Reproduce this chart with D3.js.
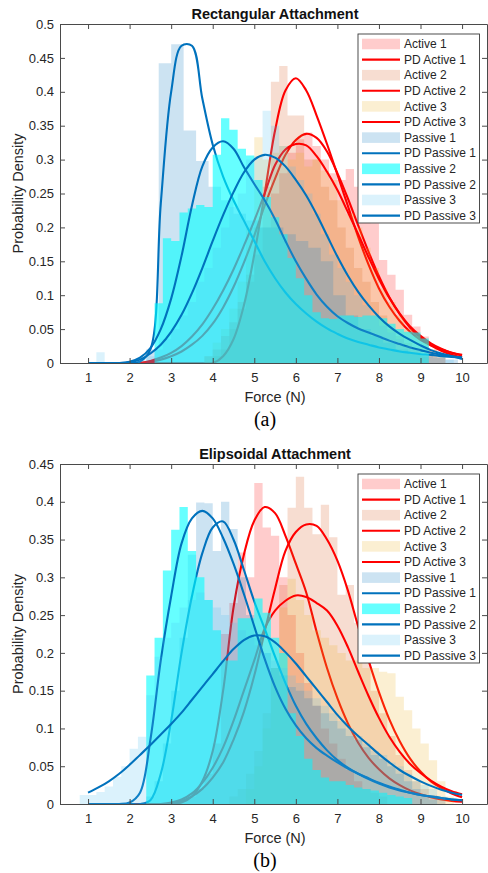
<!DOCTYPE html>
<html>
<head>
<meta charset="utf-8">
<script src="https://cdn.jsdelivr.net/npm/d3@7/dist/d3.min.js"></script>
<style>
  html, body { margin: 0; padding: 0; background: #fff; }
  svg { display: block; font-family: "Liberation Sans", Arial, Helvetica, sans-serif; }
</style>
</head>
<body>
<svg id="fig" width="488" height="873"></svg>
<script>
// ---------------- data ----------------
const forceGrid = [1, 1.25, 1.5, 1.75, 2, 2.25, 2.5, 2.75, 3, 3.25, 3.5, 3.75, 4, 4.25, 4.5, 4.75,
  5, 5.25, 5.5, 5.75, 6, 6.25, 6.5, 6.75, 7, 7.25, 7.5, 7.75, 8, 8.25, 8.5, 8.75, 9, 9.25, 9.5, 9.75, 10];
const forceTicks = [1, 2, 3, 4, 5, 6, 7, 8, 9, 10];
const rectDensityTicks = [0, 0.05, 0.1, 0.15, 0.2, 0.25, 0.3, 0.35, 0.4, 0.45, 0.5];
const rectDensityLabels = ["0", "0.05", "0.1", "0.15", "0.2", "0.25", "0.3", "0.35", "0.4", "0.45", "0.5"];
const ellDensityTicks = [0, 0.05, 0.1, 0.15, 0.2, 0.25, 0.3, 0.35, 0.4, 0.45];
const ellDensityLabels = ["0", "0.05", "0.1", "0.15", "0.2", "0.25", "0.3", "0.35", "0.4", "0.45"];
const seriesNames = ["Active 1", "Active 2", "Active 3", "Passive 1", "Passive 2", "Passive 3"];

// Rectangular attachment: histogram first bin edge and bin width (series order as above)
const rectBinStart = [3.8, 4.0, 3.8, 2.4, 2.6, 1.2];
const rectBinWidth = [0.2, 0.2, 0.2, 0.3, 0.2, 0.2];
const rectHistActive1 = [0.01, 0.02, 0.04, 0.06, 0.09, 0.12, 0.16, 0.2, 0.25, 0.28, 0.31, 0.33, 0.34, 0.32, 0.3,
  0.28, 0.27, 0.286, 0.26, 0.255, 0.206, 0.152, 0.13, 0.108, 0.071, 0.054, 0.039, 0.02, 0.008];
const rectHistActive2 = [0.01, 0.02, 0.05, 0.08, 0.13, 0.2, 0.26, 0.415, 0.438, 0.365, 0.365, 0.3, 0.3, 0.26,
  0.24, 0.2, 0.17, 0.14, 0.12, 0.09, 0.07, 0.05, 0.04, 0.03, 0.02, 0.01];
const rectHistActive3 = [0.01, 0.03, 0.05, 0.08, 0.12, 0.2, 0.333, 0.3, 0.31, 0.32, 0.3, 0.31, 0.29, 0.3, 0.284,
  0.27, 0.24, 0.22, 0.2, 0.17, 0.14, 0.11, 0.09, 0.07, 0.05, 0.04, 0.03, 0.02, 0.01];
const rectHistPassive1 = [0.02, 0.442, 0.47, 0.343, 0.298, 0.26, 0.24, 0.22, 0.21, 0.2, 0.2, 0.19, 0.18, 0.17,
  0.15, 0.1, 0.07, 0.05, 0.04, 0.03, 0.02, 0.015, 0.01, 0.008, 0.005];
const rectHistPassive2 = [0.088, 0.184, 0.18, 0.222, 0.228, 0.233, 0.23, 0.307, 0.361, 0.344, 0.316, 0.306, 0.27,
  0.245, 0.215, 0.19, 0.155, 0.125, 0.1, 0.075, 0.066, 0.065, 0.07, 0.07, 0.068, 0.07, 0.07, 0.066, 0.058,
  0.05, 0.046, 0.045, 0.036];
const rectHistPassive3 = [0.016, 0, 0, 0, 0, 0.005, 0.01, 0.02, 0.035, 0.05, 0.07, 0.09, 0.12, 0.14, 0.17, 0.2,
  0.23, 0.25, 0.3, 0.305, 0.372, 0.35, 0.32, 0.29, 0.27, 0.25, 0.22, 0.19, 0.16, 0.14, 0.12, 0.1, 0.085, 0.07,
  0.055, 0.045, 0.035, 0.025, 0.02, 0.015, 0.01, 0.008, 0.005];

// Rectangular attachment: fitted densities sampled on forceGrid
const rectPdActive1 = [0, 0, 0, 0, 0, 0, 0.002, 0.005, 0.01, 0.017, 0.027, 0.04, 0.058, 0.082, 0.112, 0.148,
  0.188, 0.232, 0.272, 0.307, 0.329, 0.338, 0.332, 0.312, 0.28, 0.243, 0.203, 0.164, 0.128, 0.097, 0.072,
  0.052, 0.037, 0.026, 0.018, 0.012, 0.008];
const rectPdActive2 = [0, 0, 0, 0, 0, 0, 0, 0, 0, 0, 0, 0, 0, 0.01, 0.035, 0.085, 0.16, 0.25, 0.343, 0.402,
  0.42, 0.402, 0.365, 0.323, 0.278, 0.232, 0.186, 0.145, 0.11, 0.083, 0.062, 0.046, 0.034, 0.026, 0.02,
  0.015, 0.012];
const rectPdActive3 = [0, 0, 0, 0, 0, 0, 0.003, 0.008, 0.015, 0.025, 0.039, 0.057, 0.08, 0.107, 0.138, 0.173,
  0.21, 0.25, 0.292, 0.315, 0.323, 0.321, 0.305, 0.282, 0.255, 0.223, 0.19, 0.156, 0.124, 0.096, 0.073,
  0.054, 0.04, 0.029, 0.021, 0.015, 0.011];
const rectPdPassive1 = [0, 0, 0, 0, 0, 0.002, 0.02, 0.235, 0.4, 0.468, 0.468, 0.39, 0.322, 0.275, 0.24, 0.21,
  0.18, 0.15, 0.125, 0.104, 0.087, 0.073, 0.061, 0.051, 0.043, 0.036, 0.031, 0.027, 0.023, 0.02, 0.017,
  0.015, 0.013, 0.012, 0.01, 0.009, 0.008];
const rectPdPassive2 = [0, 0, 0, 0, 0.002, 0.008, 0.022, 0.05, 0.095, 0.158, 0.232, 0.29, 0.318, 0.327, 0.316,
  0.289, 0.264, 0.24, 0.212, 0.18, 0.15, 0.124, 0.101, 0.083, 0.069, 0.059, 0.051, 0.045, 0.039, 0.033,
  0.028, 0.023, 0.019, 0.015, 0.012, 0.01, 0.008];
const rectPdPassive3 = [0, 0, 0, 0, 0.001, 0.005, 0.014, 0.027, 0.046, 0.071, 0.103, 0.14, 0.18, 0.218, 0.252,
  0.281, 0.3, 0.307, 0.303, 0.29, 0.27, 0.247, 0.219, 0.188, 0.157, 0.129, 0.105, 0.085, 0.068, 0.054,
  0.043, 0.034, 0.026, 0.019, 0.014, 0.01, 0.006];

// Elipsoidal attachment: histogram first bin edge and bin width
const ellBinStart = [3.2, 4.4, 4.8, 2.4, 2.4, 0.8];
const ellBinWidth = [0.2, 0.2, 0.2, 0.2, 0.2, 0.2];
const ellHistActive1 = [0.005, 0.01, 0.02, 0.04, 0.08, 0.225, 0.266, 0.333, 0.3, 0.425, 0.366, 0.355, 0.3, 0.25,
  0.2, 0.16, 0.13, 0.1, 0.08, 0.06, 0.045, 0.03, 0.02, 0.015, 0.01];
const ellHistActive2 = [0.01, 0.02, 0.04, 0.07, 0.12, 0.18, 0.29, 0.392, 0.433, 0.392, 0.357, 0.396, 0.353,
  0.277, 0.29, 0.24, 0.2, 0.15, 0.12, 0.09, 0.065, 0.045, 0.03, 0.02, 0.012, 0.006];
const ellHistActive3 = [0.02, 0.05, 0.1, 0.18, 0.26, 0.298, 0.27, 0.25, 0.23, 0.22, 0.21, 0.2, 0.19, 0.19, 0.18,
  0.18, 0.175, 0.173, 0.142, 0.124, 0.1, 0.08, 0.058, 0.03, 0.01];
const ellHistPassive1 = [0.01, 0.03, 0.08, 0.15, 0.22, 0.33, 0.399, 0.398, 0.335, 0.4, 0.364, 0.3, 0.25, 0.22,
  0.2, 0.18, 0.17, 0.155, 0.15, 0.14, 0.13, 0.12, 0.11, 0.1, 0.09, 0.085, 0.075, 0.065, 0.06, 0.05,
  0.04, 0.03, 0.02, 0.012, 0.006];
const ellHistPassive2 = [0.17, 0.22, 0.309, 0.363, 0.393, 0.335, 0.3, 0.27, 0.23, 0.19, 0.19, 0.246, 0.246,
  0.272, 0.253, 0.22, 0.2, 0.12, 0.09, 0.06, 0.045, 0.035, 0.03, 0.03, 0.025, 0.022, 0.02, 0.018, 0.015,
  0.012, 0.01, 0.008];
const ellHistPassive3 = [0.012, 0.012, 0.016, 0.023, 0.036, 0.05, 0.073, 0.089, 0.144, 0.195, 0.22, 0.24, 0.26,
  0.27, 0.28, 0.27, 0.26, 0.25, 0.24, 0.23, 0.22, 0.21, 0.2, 0.19, 0.18, 0.17, 0.16, 0.15, 0.14, 0.13, 0.12,
  0.11, 0.1, 0.09, 0.08, 0.07, 0.065, 0.055, 0.05, 0.04, 0.03, 0.025, 0.02, 0.01];

// Elipsoidal attachment: fitted densities sampled on forceGrid
const ellPdActive1 = [0, 0, 0, 0, 0, 0, 0, 0, 0, 0.002, 0.01, 0.03, 0.07, 0.15, 0.26, 0.33, 0.375, 0.393,
  0.385, 0.355, 0.318, 0.28, 0.228, 0.18, 0.14, 0.107, 0.081, 0.061, 0.046, 0.034, 0.025, 0.018, 0.013,
  0.009, 0.006, 0.004, 0.003];
const ellPdActive2 = [0, 0, 0, 0, 0, 0, 0, 0, 0.001, 0.004, 0.01, 0.02, 0.035, 0.055, 0.085, 0.122, 0.17,
  0.228, 0.285, 0.335, 0.36, 0.37, 0.368, 0.35, 0.322, 0.283, 0.235, 0.19, 0.148, 0.112, 0.083, 0.06,
  0.043, 0.03, 0.021, 0.014, 0.009];
const ellPdActive3 = [0, 0, 0, 0, 0, 0, 0, 0, 0.002, 0.006, 0.014, 0.028, 0.048, 0.075, 0.11, 0.15, 0.19,
  0.232, 0.256, 0.269, 0.276, 0.274, 0.266, 0.256, 0.236, 0.208, 0.175, 0.143, 0.114, 0.089, 0.069,
  0.053, 0.041, 0.031, 0.023, 0.017, 0.013];
const ellPdPassive1 = [0, 0, 0, 0, 0, 0, 0.005, 0.04, 0.11, 0.2, 0.275, 0.332, 0.366, 0.374, 0.35, 0.31,
  0.268, 0.232, 0.195, 0.16, 0.13, 0.106, 0.087, 0.071, 0.058, 0.048, 0.04, 0.033, 0.027, 0.022, 0.018,
  0.015, 0.012, 0.01, 0.008, 0.006, 0.005];
const ellPdPassive2 = [0, 0, 0, 0, 0.002, 0.015, 0.085, 0.19, 0.275, 0.345, 0.378, 0.388, 0.378, 0.352, 0.318,
  0.278, 0.235, 0.192, 0.155, 0.126, 0.104, 0.087, 0.074, 0.064, 0.055, 0.047, 0.04, 0.034, 0.028, 0.023,
  0.019, 0.015, 0.012, 0.01, 0.008, 0.006, 0.005];
const ellPdPassive3 = [0.015, 0.022, 0.03, 0.04, 0.052, 0.065, 0.078, 0.092, 0.106, 0.121, 0.138, 0.155, 0.172,
  0.189, 0.205, 0.217, 0.223, 0.222, 0.214, 0.201, 0.186, 0.169, 0.152, 0.135, 0.118, 0.103, 0.09, 0.078,
  0.066, 0.055, 0.045, 0.037, 0.03, 0.024, 0.019, 0.015, 0.012];

// ---------------- styles ----------------
const histFill = ["#ff0000", "#d95319", "#edb120", "#0072bd", "#00ffff", "#4dbeee"];
const histAlpha = [0.2, 0.2, 0.2, 0.2, 0.6, 0.2];
const curveColor = ["#ff0000", "#ff0000", "#ff0000", "#0072bd", "#0072bd", "#0072bd"];
const axisInk = "#4a4a4a";
const textInk = "#262626";

const plotLeft = 60, plotRight = 487;
const xDomain = [0.325, 10.6];

const panels = [
  {
    top: 24, bottom: 363, yMax: 0.5, yTicks: rectDensityTicks, yLabels: rectDensityLabels,
    title: "Rectangular Attachment", caption: "(a)",
    binStart: rectBinStart, binWidth: rectBinWidth,
    hists: [rectHistActive1, rectHistActive2, rectHistActive3, rectHistPassive1, rectHistPassive2, rectHistPassive3],
    curves: [rectPdActive1, rectPdActive2, rectPdActive3, rectPdPassive1, rectPdPassive2, rectPdPassive3]
  },
  {
    top: 464, bottom: 804, yMax: 0.45, yTicks: ellDensityTicks, yLabels: ellDensityLabels,
    title: "Elipsoidal Attachment", caption: "(b)",
    binStart: ellBinStart, binWidth: ellBinWidth,
    hists: [ellHistActive1, ellHistActive2, ellHistActive3, ellHistPassive1, ellHistPassive2, ellHistPassive3],
    curves: [ellPdActive1, ellPdActive2, ellPdActive3, ellPdPassive1, ellPdPassive2, ellPdPassive3]
  }
];

const svg = d3.select("#fig");
const defs = svg.append("defs");

function styleAxis(sel) {
  sel.attr("font-family", null).attr("font-size", null);
  sel.select(".domain").attr("stroke", axisInk).attr("stroke-width", 1);
  sel.selectAll(".tick line").attr("stroke", axisInk).attr("stroke-width", 1);
  sel.selectAll(".tick text").attr("fill", textInk).style("font-size", "13px");
}

panels.forEach((p, pi) => {
  const x = d3.scaleLinear().domain(xDomain).range([plotLeft, plotRight]);
  const y = d3.scaleLinear().domain([0, p.yMax]).range([p.bottom, p.top]);
  const g = svg.append("g");

  const clipId = "plotClip" + pi;
  defs.append("clipPath").attr("id", clipId)
    .append("rect")
    .attr("x", plotLeft).attr("y", p.top)
    .attr("width", plotRight - plotLeft).attr("height", p.bottom - p.top);

  const plot = g.append("g").attr("clip-path", `url(#${clipId})`);

  const histArea = d3.area()
    .x(d => x(d[0]))
    .y0(y(0))
    .y1(d => y(d[1]))
    .curve(d3.curveStepAfter);

  const pdLine = d3.line()
    .x((d, j) => x(forceGrid[j]))
    .y(d => y(d))
    .curve(d3.curveCatmullRom.alpha(0.5));

  // each histogram is followed by its fitted density, so later bars tint earlier curves
  seriesNames.forEach((name, k) => {
    const h = p.hists[k];
    const pts = h.map((v, j) => [p.binStart[k] + j * p.binWidth[k], v]);
    pts.push([p.binStart[k] + h.length * p.binWidth[k], 0]);
    plot.append("path")
      .datum(pts)
      .attr("d", histArea)
      .attr("fill", histFill[k])
      .attr("fill-opacity", histAlpha[k]);

    plot.append("path")
      .datum(p.curves[k])
      .attr("d", pdLine)
      .attr("fill", "none")
      .attr("stroke", curveColor[k])
      .attr("stroke-width", 2.1)
      .attr("stroke-linejoin", "round");
  });

  // axes box with inward ticks
  const axB = d3.axisBottom(x).tickValues(forceTicks).tickFormat(d3.format("d"))
    .tickSizeInner(-5).tickSizeOuter(0).tickPadding(10);
  g.append("g").attr("transform", `translate(0,${p.bottom})`).call(axB).call(styleAxis);

  const axT = d3.axisTop(x).tickValues(forceTicks).tickFormat("")
    .tickSizeInner(-5).tickSizeOuter(0);
  g.append("g").attr("transform", `translate(0,${p.top})`).call(axT).call(styleAxis);

  const axL = d3.axisLeft(y).tickValues(p.yTicks).tickFormat((d, i) => p.yLabels[i])
    .tickSizeInner(-5).tickSizeOuter(0).tickPadding(6);
  g.append("g").attr("transform", `translate(${plotLeft},0)`).call(axL).call(styleAxis);

  const axR = d3.axisRight(y).tickValues(p.yTicks).tickFormat("")
    .tickSizeInner(-5).tickSizeOuter(0);
  g.append("g").attr("transform", `translate(${plotRight},0)`).call(axR).call(styleAxis);

  // title, axis labels, caption
  g.append("text")
    .attr("x", 275).attr("y", p.top - 5)
    .attr("text-anchor", "middle")
    .attr("font-weight", "bold")
    .style("font-size", "14.5px")
    .attr("fill", "#111")
    .text(p.title);

  g.append("text")
    .attr("x", 275).attr("y", p.bottom + 39)
    .attr("text-anchor", "middle")
    .style("font-size", "14.5px")
    .attr("fill", textInk)
    .text("Force (N)");

  g.append("text")
    .attr("transform", `translate(23,${(p.top + p.bottom) / 2}) rotate(-90)`)
    .attr("text-anchor", "middle")
    .style("font-size", "14.5px")
    .attr("fill", textInk)
    .text("Probability Density");

  g.append("text")
    .attr("x", 265).attr("y", p.bottom + 63)
    .attr("text-anchor", "middle")
    .style("font-family", "'Liberation Serif', 'Times New Roman', serif")
    .style("font-size", "20px")
    .attr("fill", "#000")
    .text(p.caption);

  // legend
  const lx = 358, ly = p.top + 10, lw = 121.5, lh = 189, rowGap = 15.6;
  const lg = g.append("g");
  lg.append("rect")
    .attr("x", lx).attr("y", ly).attr("width", lw).attr("height", lh)
    .attr("fill", "#fff").attr("stroke", "#3a3a3a").attr("stroke-width", 0.9);
  seriesNames.forEach((name, k) => {
    const yHist = ly + 10 + (2 * k) * rowGap;
    const yLine = ly + 10 + (2 * k + 1) * rowGap;
    lg.append("rect")
      .attr("x", lx + 4).attr("y", yHist - 5.3)
      .attr("width", 38).attr("height", 10.6)
      .attr("fill", histFill[k]).attr("fill-opacity", histAlpha[k]);
    lg.append("text")
      .attr("x", lx + 46).attr("y", yHist).attr("dy", "0.35em")
      .style("font-size", "12px").attr("fill", textInk)
      .text(name);
    lg.append("line")
      .attr("x1", lx + 4).attr("x2", lx + 42)
      .attr("y1", yLine).attr("y2", yLine)
      .attr("stroke", curveColor[k]).attr("stroke-width", 2.1);
    lg.append("text")
      .attr("x", lx + 46).attr("y", yLine).attr("dy", "0.35em")
      .style("font-size", "12px").attr("fill", textInk)
      .text("PD " + name);
  });
});
</script>
</body>
</html>
